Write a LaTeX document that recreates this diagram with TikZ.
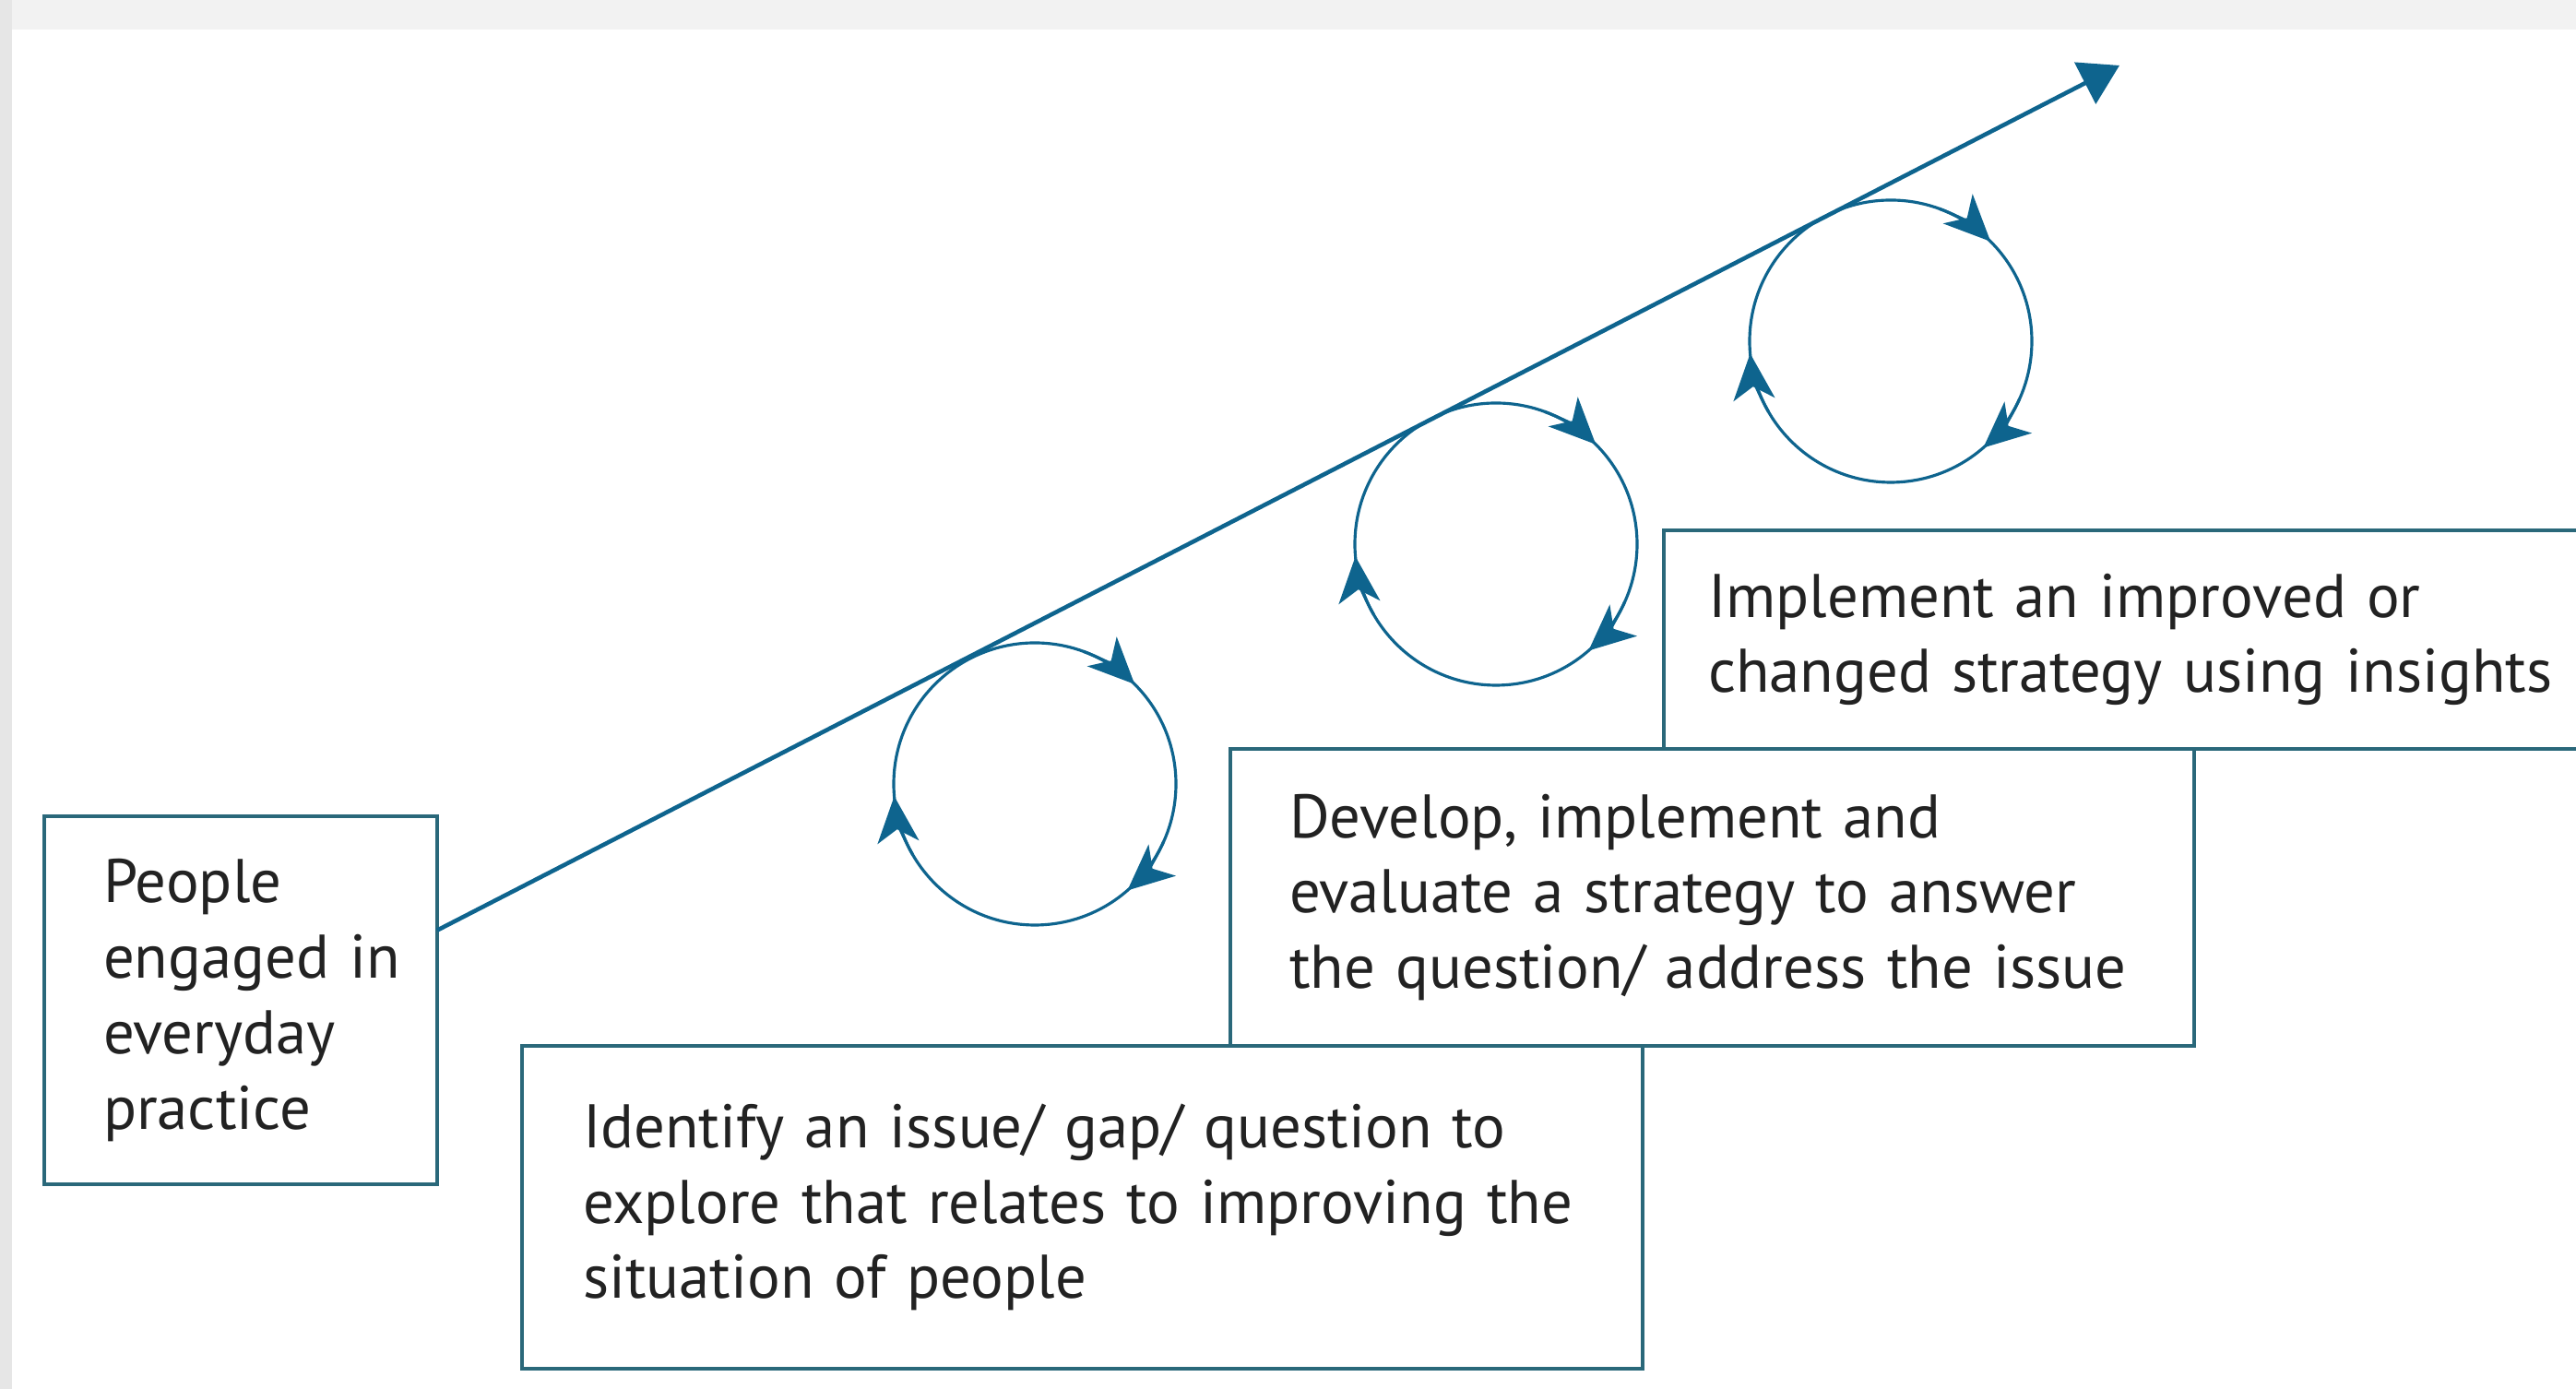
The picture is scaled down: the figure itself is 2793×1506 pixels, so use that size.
\documentclass[tikz,border=0pt]{standalone}
\usepackage{fontspec}
\setmainfont{PT Sans}
\usetikzlibrary{calc}
\usetikzlibrary{arrows.meta}
\usepackage{xcolor}
\definecolor{lineblue}{RGB}{14,100,142}
\definecolor{boxteal}{RGB}{42,104,122}
\definecolor{textgray}{RGB}{34,34,34}
\definecolor{framegray}{RGB}{242,242,242}
\tikzset{
  stagebox/.style={draw=boxteal, line width=1.1pt, outer sep=0pt, anchor=north west,
    align=left, inner ysep=0pt, text=textgray, font=\fontsize{19}{23.3}\selectfont},
  loopline/.style={lineblue, line width=0.9pt},
  looptip/.style={-{Stealth[length=0.5cm, width=0.45cm, inset=0.14cm]}}
}

\begin{document}
\begin{tikzpicture}[x=0.1mm,y=0.1mm]
\def\rad{153}
\useasboundingbox (0,0) rectangle (2793,1506);
\fill[white] (0,0) rectangle (2793,1506);
\fill[framegray] (0,1474) rectangle (2793,1506);
\fill[framegray!95!black] (0,0) rectangle (13,1506);
\clip (0,0) rectangle (2793,1506);
\node[stagebox, inner xsep=0.64cm, text width=2.98cm, minimum height=3.99cm] (ppl) at (48,621)
  {People\\engaged~in\\everyday\\practice};
\node[stagebox, inner xsep=0.66cm, text width=10.83cm, minimum height=3.5cm] (ident) at (566,372)
  {Identify an issue/ gap/ question to\\explore that relates to improving the\\situation of people};
\node[stagebox, inner xsep=0.64cm, text width=9.17cm, minimum height=3.22cm] (dev) at (1334,694)
  {Develop, implement and\\evaluate a strategy to answer\\the question/ address the issue};
\node[stagebox, inner xsep=0.48cm, text width=11cm, minimum height=2.37cm] (impl) at (1804,931)
  {Implement an improved or\\changed strategy using insights};
\coordinate (c1) at (1122,656);
\coordinate (c2) at (1622,916);
\coordinate (c3) at (2050,1136);
\coordinate (tip) at (2298,1435);
\draw[lineblue, line width=1.3pt, -{Triangle[length=0.42cm, width=0.5cm]}]
  ($(ppl.north east)!0.31!(ppl.south east)$) -- (tip);
\foreach \c in {c1,c2,c3}{
  \draw[loopline] (\c) circle[radius=\rad];
  \foreach \a in {45,185,-49}
    \draw[loopline, looptip] (\c) ++({\a+25}:\rad) arc[start angle={\a+25}, end angle=\a, radius=\rad];
}
\end{tikzpicture}
\end{document}
